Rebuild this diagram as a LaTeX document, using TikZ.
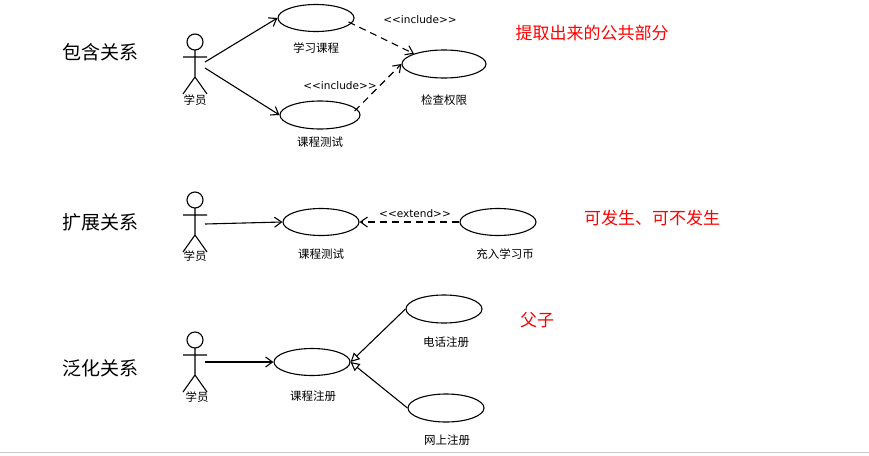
\documentclass[tikz,border=0pt]{standalone}
\usepackage{fontspec}
\setmainfont{Noto Sans CJK SC}
\newfontfamily\lat{DejaVu Sans}
\usetikzlibrary{arrows.meta,shapes.geometric}
\begin{document}
\begin{tikzpicture}[x=1pt,y=-1pt,line width=1.1pt,
  uc/.style={draw,ellipse,minimum width=76pt,minimum height=27pt,inner sep=0pt},
  small/.style={font=\fontsize{11.5}{13}\selectfont},
  big/.style={font=\fontsize{19}{22}\selectfont},
  red/.style={font=\fontsize{17}{19}\selectfont,text=red},
  assoc/.style={-{Straight Barb[length=7pt,width=10pt]}},
  dep/.style={dashed,dash pattern=on 7pt off 5pt,-{Straight Barb[length=7pt,width=10pt]}},
  gen/.style={-{Triangle[open,length=9pt,width=9pt]}}]
\useasboundingbox (0,0) rectangle (869,455);
\draw[gray!40,line width=1pt] (0,452) -- (869,452);
\newcommand\actor[3]{%
  \draw (#2,#3) circle (8);
  \draw (#2,#3+8) -- (#2,#3+35) (#2-12,#3+15) -- (#2+12,#3+15)
        (#2-12,#3+52) -- (#2,#3+35) -- (#2+12,#3+52);
  \coordinate (#1) at (#2+10,#3+24);}
\newcommand\st[1]{{\lat\fontsize{10.5}{12}\selectfont{<}{<}#1{>}{>}}}
% row 1
\node[big] (r1) at (100,52) {包含关系};
\actor{a1}{195}{42}
\node[small] (a1l) at (195,100) {学员};
\node[uc] (u1) at (316,18) {};
\node[small] (u1l) at (316,48) {学习课程};
\node[uc,minimum width=84pt,minimum height=28pt] (u2) at (444,64) {};
\node[small] (u2l) at (444,100) {检查权限};
\node[uc,minimum width=80pt,minimum height=28pt] (u3) at (320,115) {};
\node[small] (u3l) at (320,142) {课程测试};
\draw[assoc] (a1) ++(0,-4) -- (u1.west);
\draw[assoc] (a1) ++(0,2) -- (u3.west);
\draw[dep] (u1.east) ++(-6,4) -- (u2.north west);
\draw[dep] (u3.east) ++(-6,-4) -- (u2.west);
\node[small] (i1) at (420,20) {\st{include}};
\node[small] (i2) at (340,86) {\st{include}};
\node[red] (t1) at (592,33) {提取出来的公共部分};
% row 2
\node[big] (r2) at (100,222) {扩展关系};
\actor{a2}{195}{200}
\node[small] (a2l) at (195,256) {学员};
\node[uc] (v1) at (321,222) {};
\node[small] (v1l) at (321,254) {课程测试};
\node[uc] (v2) at (498,222) {};
\node[small] (v2l) at (505,254) {充入学习币};
\draw[assoc] (a2) -- (v1.west);
\draw[dep] (v2.west) -- (v1.east);
\node[small] (e1) at (415,214) {\st{extend}};
\node[red] (t2) at (652,218) {可发生、可不发生};
% row 3
\node[big] (r3) at (100,368) {泛化关系};
\actor{a3}{195}{340}
\node[small] (a3l) at (197,397) {学员};
\node[uc] (w1) at (312,362) {};
\node[small] (w1l) at (313,396) {课程注册};
\node[uc,minimum height=28pt] (w2) at (444,309) {};
\node[small] (w2l) at (446,342) {电话注册};
\node[uc,minimum height=28pt] (w3) at (446,408) {};
\node[small] (w3l) at (447,440) {网上注册};
\draw[assoc] (a3) ++(0,-2) -- (w1.west);
\draw[gen] (w2.west) -- (w1.east);
\draw[gen] (w3.west) -- (w1.east);
\node[red] (t3) at (537,320) {父子};
\end{tikzpicture}
\end{document}
